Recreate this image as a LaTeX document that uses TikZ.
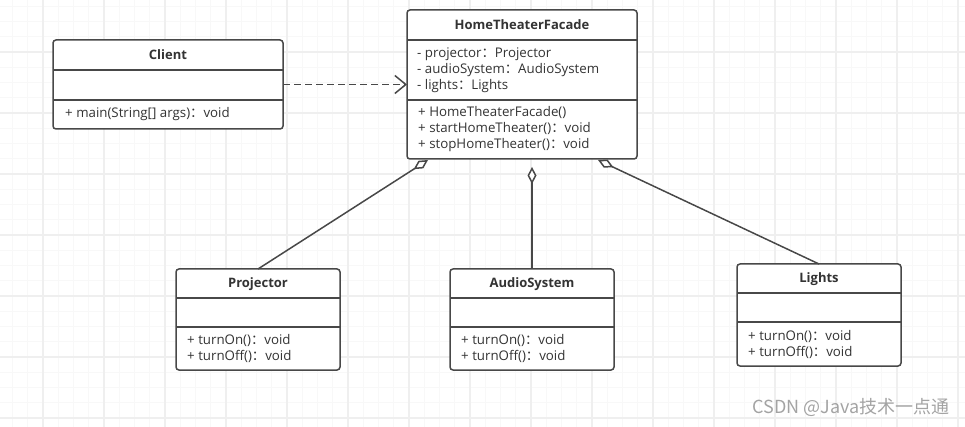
\documentclass[tikz,border=0pt]{standalone}
\usepackage{fontspec}
\setmainfont{Open Sans}
\newfontfamily\cjk{Noto Sans CJK SC}
\usetikzlibrary{arrows.meta,positioning}
\definecolor{grid-minor}{HTML}{F8F8F8}
\definecolor{grid-major}{HTML}{EFEFEF}
\definecolor{box-line}{HTML}{484848}
\definecolor{box-text}{HTML}{333333}
\definecolor{mark-text}{HTML}{A3A3A3}
\newcommand{\fwcolon}{{\cjk ：}}
\tikzset{
  minor/.style={draw=grid-minor, line width=0.8pt},
  major/.style={draw=grid-major, line width=1.2pt},
  classbox/.style={draw=box-line, line width=1.5pt, rounded corners=3pt,
    fill=white, inner sep=0, outer sep=0, anchor=north west},
  divider/.style={draw=box-line, line width=1.5pt},
  classname/.style={font=\fontsize{13}{15}\selectfont\bfseries, text=box-text, inner sep=0},
  members/.style={font=\fontsize{13.3}{16}\selectfont, text=box-text, align=left,
    anchor=west, inner sep=0},
  depend/.style={draw=box-line, line width=1.5pt, dash pattern=on 7pt off 4pt,
    -{Straight Barb[length=11pt,width=18pt]}},
  aggreg/.style={draw=box-line, line width=1.5pt,
    {Diamond[length=17pt,width=9pt,fill=white]}-}
}

\begin{document}
\begin{tikzpicture}[x=1pt,y=-1pt]
  \useasboundingbox (0,0) rectangle (965,427);
  % grid
  \foreach \i in {0,...,63}
    \draw[minor] ({-2.75+15.25*\i},0) -- ({-2.75+15.25*\i},427);
  \foreach \j in {0,...,27}
    \draw[minor] (0,{6.25+15.25*\j}) -- (965,{6.25+15.25*\j});
  \foreach \k in {0,...,15}
    \draw[major] ({43+61*\k},0) -- ({43+61*\k},427);
  \foreach \k in {0,...,6}
    \draw[major] (0,{52+61*\k}) -- (965,{52+61*\k});

  % Client
  \node[classbox, minimum width=230pt, minimum height=89pt] (client) at (53,40) {};
  \node[classname] (client-name) at ([yshift=-15pt]client.north) {Client};
  \draw[divider] ([yshift=-30pt]client.north west) -- ([yshift=-30pt]client.north east);
  \draw[divider] ([yshift=-60pt]client.north west) -- ([yshift=-60pt]client.north east);
  \node[members] (client-ops) at ([xshift=12pt,yshift=-74.5pt]client.north west)
    {+ main(String[] args)\fwcolon void};

  % HomeTheaterFacade
  \node[classbox, minimum width=230pt, minimum height=149pt] (facade) at (407,10) {};
  \node[classname] (facade-name) at ([yshift=-15pt]facade.north) {HomeTheaterFacade};
  \draw[divider] ([yshift=-30pt]facade.north west) -- ([yshift=-30pt]facade.north east);
  \draw[divider] ([yshift=-90pt]facade.north west) -- ([yshift=-90pt]facade.north east);
  \node[members] (facade-attrs) at ([xshift=10pt,yshift=-60pt]facade.north west)
    {- projector\fwcolon Projector\\- audioSystem\fwcolon AudioSystem\\- lights\fwcolon Lights};
  \node[members] (facade-ops) at ([xshift=11pt,yshift=-119.5pt]facade.north west)
    {+ HomeTheaterFacade()\\+ startHomeTheater()\fwcolon void\\+ stopHomeTheater()\fwcolon void};

  % Projector
  \node[classbox, minimum width=164pt, minimum height=101pt] (projector) at (176,269) {};
  \node[classname] (projector-name) at ([yshift=-15pt]projector.north) {Projector};
  \draw[divider] ([yshift=-29pt]projector.north west) -- ([yshift=-29pt]projector.north east);
  \draw[divider] ([yshift=-58pt]projector.north west) -- ([yshift=-58pt]projector.north east);
  \node[members] (projector-ops) at ([xshift=11pt,yshift=-79.5pt]projector.north west)
    {+ turnOn()\fwcolon void\\+ turnOff()\fwcolon void};

  % AudioSystem
  \node[classbox, minimum width=164pt, minimum height=101pt] (audio) at (450,269) {};
  \node[classname] (audio-name) at ([yshift=-15pt]audio.north) {AudioSystem};
  \draw[divider] ([yshift=-29pt]audio.north west) -- ([yshift=-29pt]audio.north east);
  \draw[divider] ([yshift=-58pt]audio.north west) -- ([yshift=-58pt]audio.north east);
  \node[members] (audio-ops) at ([xshift=11pt,yshift=-79.5pt]audio.north west)
    {+ turnOn()\fwcolon void\\+ turnOff()\fwcolon void};

  % Lights
  \node[classbox, minimum width=164pt, minimum height=102pt] (lights) at (737,264) {};
  \node[classname] (lights-name) at ([yshift=-15pt]lights.north) {Lights};
  \draw[divider] ([yshift=-29pt]lights.north west) -- ([yshift=-29pt]lights.north east);
  \draw[divider] ([yshift=-58pt]lights.north west) -- ([yshift=-58pt]lights.north east);
  \node[members] (lights-ops) at ([xshift=11pt,yshift=-80pt]lights.north west)
    {+ turnOn()\fwcolon void\\+ turnOff()\fwcolon void};

  % relations
  \draw[depend] (client.east) -- (facade.west);
  \coordinate (agg-p) at ([xshift=-94pt,yshift=-1pt]facade.south);
  \coordinate (agg-a) at ([xshift=10pt,yshift=-8pt]facade.south);
  \coordinate (agg-l) at ([xshift=76pt,yshift=-1pt]facade.south);
  \draw[aggreg] (agg-p) -- (projector.north);
  \draw[aggreg] (agg-a) -- (audio.north);
  \draw[aggreg] (agg-l) -- (lights.north);

  \node[font=\cjk\fontsize{18}{20}\selectfont, text=mark-text, anchor=east, inner sep=0]
    (mark) at (950,407) {CSDN @Java技术一点通};
\end{tikzpicture}
\end{document}
